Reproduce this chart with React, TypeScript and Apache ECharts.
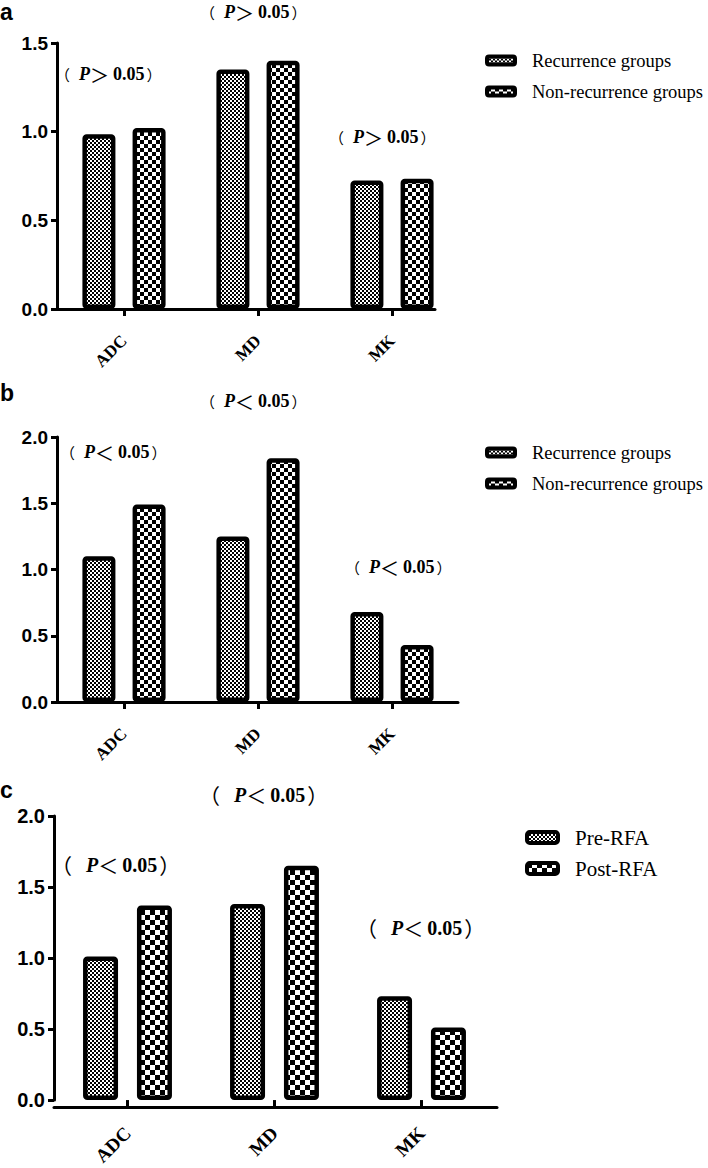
import React, { useEffect, useRef } from "react";
import * as echarts from "echarts";

const categories = ["ADC", "MD", "MK"];

const seriesNamesA = ["Recurrence groups", "Non-recurrence groups"];
const seriesNamesB = ["Recurrence groups ", "Non-recurrence groups "];
const seriesNamesC = ["Pre-RFA", "Post-RFA"];

const aRecurrence = [0.985, 1.35, 0.725];
const aNonRecurrence = [1.02, 1.4, 0.735];
const bRecurrence = [1.1, 1.25, 0.68];
const bNonRecurrence = [1.49, 1.84, 0.43];
const cPre = [1.01, 1.38, 0.73];
const cPost = [1.37, 1.65, 0.51];

const signA = "＞";
const signBC = "＜";
const pValue = "0.05";

function checker(cell: number) {
  const c = document.createElement("canvas");
  c.width = cell * 2;
  c.height = cell * 2;
  const ctx = c.getContext("2d")!;
  ctx.fillStyle = "#fff";
  ctx.fillRect(0, 0, cell * 2, cell * 2);
  ctx.fillStyle = "#000";
  ctx.fillRect(0, 0, cell, cell);
  ctx.fillRect(cell, cell, cell, cell);
  return { image: c.toDataURL(), repeat: "repeat", imageWidth: cell * 2, imageHeight: cell * 2 } as any;
}

export default function App() {
  const ref = useRef<HTMLDivElement>(null);
  useEffect(() => {
    document.body.style.margin = "0";
    const chart = echarts.init(ref.current!, null, { renderer: "svg" });
    const fine = checker(2);
    const coarse = checker(4);
    const coarseC = checker(5);

    const panels = [
      { top: 43, height: 266, left: 57, width: 402, lineW: 378, max: 1.5, names: seriesNamesA, d1: aRecurrence, d2: aNonRecurrence, p2: coarse, barW: 33, gap: "52%", yFont: 19, xFont: 17, xMargin: 29, legendTop: 51, legendLeft: 485, legendFont: 18.5, iconW: 28, iconH: 8, itemGap: 12 },
      { top: 437, height: 265, left: 57, width: 402, lineW: 401, max: 2.0, names: seriesNamesB, d1: bRecurrence, d2: bNonRecurrence, p2: coarse, barW: 33, gap: "52%", yFont: 19, xFont: 17, xMargin: 29, legendTop: 443, legendLeft: 485, legendFont: 18.5, iconW: 28, iconH: 8, itemGap: 12 },
      { top: 816, height: 291, left: 54, width: 441, lineW: 443, max: 2.0, names: seriesNamesC, d1: cPre, d2: cPost, p2: coarseC, barW: 35, gap: "54%", yFont: 20, xFont: 19, xMargin: 30, legendTop: 827, legendLeft: 525, legendFont: 21, iconW: 31, iconH: 11, itemGap: 10 },
    ];

    const grid: any[] = [];
    const xAxis: any[] = [];
    const yAxis: any[] = [];
    const series: any[] = [];
    const legend: any[] = [];

    panels.forEach((p, i) => {
      grid.push({ left: p.left, top: p.top, width: p.width, height: p.height });
      grid.push({ left: p.left, top: p.top, width: p.lineW, height: p.height });
      xAxis.push({
        type: "category",
        gridIndex: i * 2,
        data: categories,
        axisLine: { show: false },
        axisTick: { show: true, alignWithLabel: true, length: 7, lineStyle: { color: "#000", width: 3 } },
        axisLabel: { rotate: 45, margin: p.xMargin, color: "#000", fontFamily: "Liberation Serif", fontWeight: "bold", fontSize: p.xFont },
      });
      xAxis.push({
        type: "value",
        gridIndex: i * 2 + 1,
        min: 0,
        max: 1,
        axisLine: { show: true, lineStyle: { color: "#000", width: 3 } },
        axisTick: { show: false },
        axisLabel: { show: false },
        splitLine: { show: false },
      });
      yAxis.push({
        type: "value",
        gridIndex: i * 2,
        min: 0,
        max: p.max,
        interval: 0.5,
        axisLine: { show: true, lineStyle: { color: "#000", width: 3 } },
        axisTick: { show: true, length: 6, lineStyle: { color: "#000", width: 3 } },
        axisLabel: { margin: 9, color: "#000", fontFamily: "Liberation Sans", fontWeight: "bold", fontSize: p.yFont, formatter: (v: number) => v.toFixed(1) },
        splitLine: { show: false },
      });
      yAxis.push({ type: "value", gridIndex: i * 2 + 1, show: false, min: 0, max: 1 });
      const common = {
        type: "bar",
        xAxisIndex: i * 2,
        yAxisIndex: i * 2,
        barWidth: p.barW,
        barGap: p.gap,
        z: 3,
        emphasis: { disabled: true },
      };
      series.push({ ...common, name: p.names[0], data: p.d1, itemStyle: { color: fine, borderColor: "#000", borderWidth: 4.5, borderRadius: 2 } });
      series.push({ ...common, name: p.names[1], data: p.d2, itemStyle: { color: p.p2, borderColor: "#000", borderWidth: 4.5, borderRadius: 2 } });
      legend.push({
        data: p.names,
        orient: "vertical",
        left: p.legendLeft,
        top: p.legendTop,
        padding: 0,
        itemWidth: p.iconW,
        itemHeight: p.iconH,
        itemGap: p.itemGap,
        icon: "roundRect",
        selectedMode: false,
        itemStyle: { borderWidth: 4, borderColor: "#000" },
        textStyle: { fontFamily: "Liberation Serif", fontSize: p.legendFont, color: "#000", padding: [0, 0, 0, 12] },
        formatter: (n: string) => n.trim(),
      });
    });

    const pText = (x: number, y: number, sym: string, big: boolean) => ({
      type: "text",
      x,
      y,
      style: {
        text: `{p|（}{i|P}{g|${sym}}{n|${pValue}}{q|）}`,
        verticalAlign: "middle",
        rich: {
          p: { fontFamily: "Noto Sans CJK SC", fontSize: big ? 21 : 15, fill: "#000" },
          q: { fontFamily: "Noto Sans CJK SC", fontSize: big ? 21 : 15, fill: "#000", padding: [0, 0, 0, 2] },
          i: { fontFamily: "Liberation Serif", fontStyle: "italic", fontWeight: "bold", fontSize: big ? 20 : 18, fill: "#000", padding: [0, 0, 0, big ? 14 : 9] },
          g: { fontFamily: "Noto Sans CJK SC", fontSize: big ? 20 : 19, fill: "#000" },
          n: { fontFamily: "Liberation Serif", fontWeight: "bold", fontSize: big ? 20 : 18, fill: "#000", padding: [0, 0, 0, 4] },
        },
      },
    });

    const letter = (x: number, y: number, t: string) => ({
      type: "text",
      x,
      y,
      style: { text: t, fontFamily: "Liberation Sans", fontWeight: "bold", fontSize: 23, fill: "#000", verticalAlign: "top" },
    });

    chart.setOption({
      animation: false,
      backgroundColor: "#fff",
      grid,
      xAxis,
      yAxis,
      series,
      legend,
      graphic: [
        letter(0, 0, "a"),
        letter(0, 381, "b"),
        letter(0, 778, "c"),
        pText(55, 74, signA, false),
        pText(200, 12, signA, false),
        pText(329, 137, signA, false),
        pText(60, 452, signBC, false),
        pText(200, 401, signBC, false),
        pText(345, 567, signBC, false),
        pText(51, 865, signBC, true),
        pText(199, 795, signBC, true),
        pText(356, 928, signBC, true),
      ],
    });
    return () => chart.dispose();
  }, []);
  return <div ref={ref} style={{ width: 708, height: 1168 }} />;
}
